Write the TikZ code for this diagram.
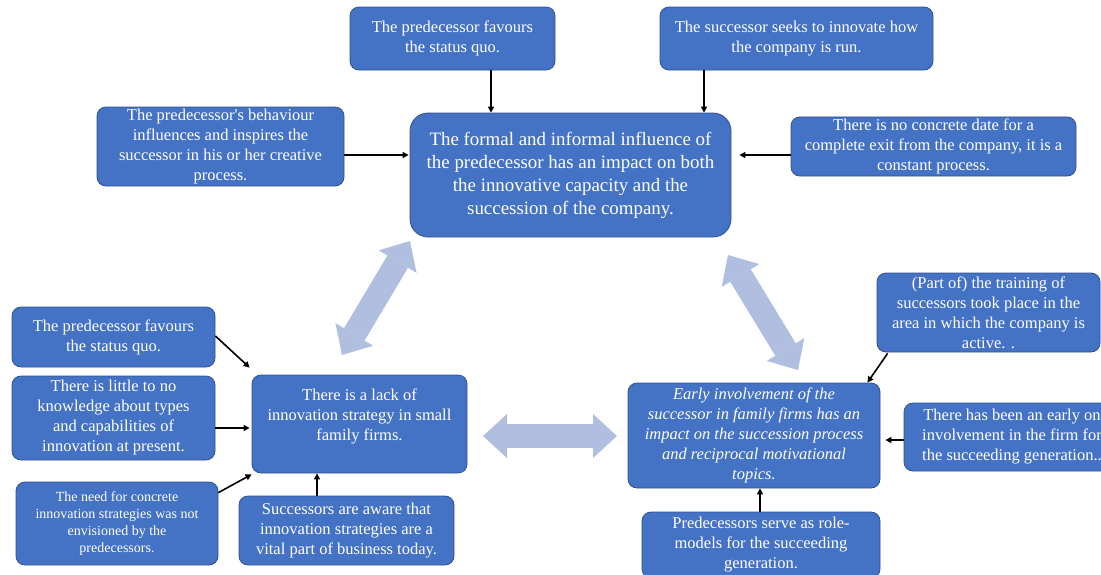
\documentclass[tikz,border=0pt]{standalone}
\usepackage{fontspec}
\setmainfont{Liberation Serif}
\usetikzlibrary{arrows.meta,calc}
\definecolor{boxblue}{HTML}{4472C4}
\definecolor{boxedge}{HTML}{2F528F}
\definecolor{bigarrow}{RGB}{176,190,224}
\begin{document}
\begin{tikzpicture}[x=1pt,y=-1pt,
  box/.style={draw=boxedge, line width=0.8pt, fill=boxblue, rounded corners=9pt, text=white, align=center, inner sep=2pt, font=\fontsize{16.5}{20}\selectfont},
  arr/.style={-{Triangle[length=6pt,width=6pt]}, line width=1.6pt, black},
  big/.style={line width=24pt, draw=bigarrow, {Triangle[length=24pt,width=44pt,line width=0pt]}-{Triangle[length=24pt,width=44pt,line width=0pt]}}]
\useasboundingbox (0,0) rectangle (1101,574);
\clip (0,0) rectangle (1101,574);
% top cluster
\node[box, minimum width=205pt, minimum height=63pt] (A) at (452.5,38.5) {The predecessor favours\\the status quo.};
\node[box, minimum width=273pt, minimum height=63pt] (B) at (796.5,38.5) {The successor seeks to innovate how\\the company is run.};
\node[box, minimum width=247pt, minimum height=79pt] (C) at (220.5,146.5) {The predecessor\textquotesingle s behaviour\\influences and inspires the\\successor in his or her creative\\process.};
\node[box, rounded corners=18pt, minimum width=321pt, minimum height=124pt, font=\fontsize{18.9}{23}\selectfont] (M) at (570.5,175) {The formal and informal influence of\\the predecessor has an impact on both\\the innovative capacity and the\\succession of the company.};
\node[box, minimum width=285pt, minimum height=59pt] (D) at (933.5,146.5) {There is no concrete date for a\\complete exit from the company, it is a\\constant process.};
% left cluster
\node[box, minimum width=215pt, minimum height=98pt] (L) at (359.5,424) {There is a lack of\\innovation strategy in small\\family firms.\\[-2pt]};
\node[box, minimum width=203pt, minimum height=60pt] (E) at (113.5,337) {The predecessor favours\\the status quo.};
\node[box, minimum width=203pt, minimum height=84pt] (F) at (113.5,418) {There is little to no\\knowledge about types\\and capabilities of\\innovation at present.};
\node[box, minimum width=202pt, minimum height=83pt, font=\fontsize{14}{17}\selectfont] (G) at (117,523.5) {The need for concrete\\innovation strategies was not\\envisioned by the\\predecessors.};
\node[box, minimum width=215pt, minimum height=69pt] (H) at (346.5,530.5) {Successors are aware that\\innovation strategies are a\\vital part of business today.};
% right cluster
\node[box, minimum width=252pt, minimum height=105pt, font=\fontsize{16.5}{20}\selectfont\itshape] (R) at (754,435.5) {Early involvement of the\\successor in family firms has an\\impact on the succession process\\and reciprocal motivational\\topics.};
\node[box, minimum width=223pt, minimum height=79pt] (T) at (988.5,312.5) {(Part of) the training of\\successors took place in the\\area in which the company is\\active. .};
\node[box, minimum width=216pt, minimum height=68pt] (O) at (1012,437) {There has been an early on\\involvement in the firm for\\the succeeding generation..};
\node[box, minimum width=238pt, minimum height=66pt] (P) at (761,545) {Predecessors serve as role-\\models for the succeeding\\generation.};
% helper coordinates
\coordinate (xa) at (491,0);
\coordinate (xb) at (704,0);
\coordinate (yc) at (0,155);
\coordinate (yf) at (0,428);
\coordinate (xh) at (317,0);
\coordinate (yo) at (0,440);
\coordinate (xp) at (760,0);
% black arrows
\draw[arr] (xa |- A.south) -- (xa |- M.north);
\draw[arr] (xb |- B.south) -- (xb |- M.north);
\draw[arr] (C.east |- yc) -- ([xshift=-1pt]M.west |- yc);
\draw[arr] (D.west |- yc) -- ([xshift=8pt]M.east |- yc);
\draw[arr] ([yshift=1pt]E.east) -- ([xshift=-2pt,yshift=7pt]L.north west);
\draw[arr] (F.east |- yf) -- ([xshift=-2pt]L.west |- yf);
\draw[arr] ($(G.north east)+(0,11)$) -- ([yshift=-1pt]L.south west);
\draw[arr] (xh |- H.north) -- (xh |- L.south);
\draw[arr] ($(T.south west)+(11,1)$) -- ($(R.north east)+(-13,0)$);
\draw[arr] (O.west |- yo) -- ([xshift=5pt]R.east |- yo);
\draw[arr] (xp |- P.north) -- (xp |- R.south);
% big double arrows
\coordinate (d1a) at (342,355);
\coordinate (d1b) at (410,241);
\coordinate (d2a) at (728,255);
\coordinate (d2b) at (798,370);
\coordinate (h1a) at (483,436);
\coordinate (h1b) at (617,436);
\draw[big] (d1a) -- (d1b);
\draw[big] (d2a) -- (d2b);
\draw[big] (h1a) -- (h1b);
\end{tikzpicture}
\end{document}
